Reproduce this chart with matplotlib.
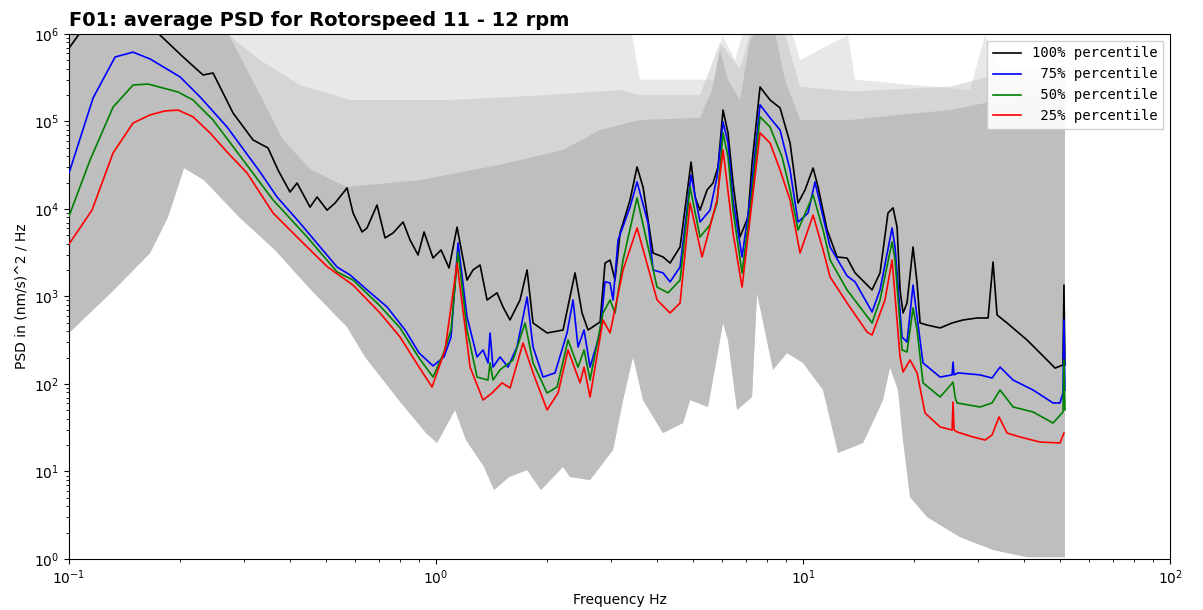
import numpy as np
import matplotlib
matplotlib.use("Agg")
import matplotlib.pyplot as plt

# ---------------- data ----------------
p100_f = [0.100, 0.1071, 0.1215, 0.1421, 0.1611, 0.177, 0.2045, 0.2318, 0.2468, 0.2798,
          0.3172, 0.3485, 0.3710, 0.4001, 0.4181, 0.4536, 0.4740, 0.5047, 0.5307, 0.5721,
          0.5941, 0.6288, 0.6486, 0.6905, 0.7261, 0.7636, 0.8131, 0.8496, 0.8933, 0.9275,
          0.9813, 1.0318, 1.0850, 1.1408, 1.2147, 1.2612, 1.318, 1.3772, 1.466, 1.5223,
          1.5905, 1.6935, 1.7701, 1.8376, 2.0067, 2.2182, 2.3917, 2.4993, 2.5955, 2.799,
          2.8873, 2.9793, 3.074, 3.1725, 3.3777, 3.5295, 3.6644, 3.9024, 4.1547, 4.342,
          4.623, 4.83, 4.953, 5.0786, 5.24, 5.476, 5.685, 5.866, 6.053, 6.246,
          6.446, 6.734, 7.081, 7.261, 7.635, 8.13, 8.656, 9.218, 9.692, 10.125,
          10.65, 10.99, 11.63, 12.38, 13.18, 13.86, 15.42, 16.21, 17.04, 17.59,
          18.04, 18.38, 18.73, 19.2, 19.94, 20.45, 20.84, 21.77, 23.63, 25.47,
          27.29, 29.8, 31.93, 32.94, 33.78, 35.97, 40.78, 46.23, 48.61, 51.08,
          51.4, 51.72]
p100_v = [690000, 1030000, 1370000, 1650000, 1370000, 970000, 546000, 340000, 358000, 125000,
          61500, 49800, 27900, 15600, 19800, 10500, 13700, 9700, 11700, 17400,
          9000, 5460, 6070, 11100, 4670, 5320, 7100, 4420, 2980, 5460,
          2750, 3400, 2120, 6200, 1540, 2010, 2290, 912, 1100, 759,
          539, 912, 2010, 498, 383, 414, 1860, 648, 414, 511,
          2410, 2610, 1540, 5320, 12700, 30200, 17800, 3140, 2830, 2410,
          3680, 15200, 34400, 13700, 9700, 16500, 19800, 30200, 135000, 74000,
          19800, 4790, 8100, 33600, 248000, 176000, 143000, 56800, 11700, 16500,
          29400, 17800, 5750, 2830, 2750, 1860, 1190, 1860, 9000, 10300,
          6200, 1190, 648, 843, 3680, 1430, 498, 472, 437, 498,
          539, 568, 568, 2480, 615, 498, 318, 188, 152, 165,
          1350, 165]

p75_f = [0.100, 0.1163, 0.1335, 0.1494, 0.1663, 0.2007, 0.2275, 0.2695, 0.3314, 0.3688,
         0.426, 0.5374, 0.5832, 0.6486, 0.7354, 0.8235, 0.899, 0.9813, 1.0514, 1.0987,
         1.148, 1.2147, 1.2933, 1.3431, 1.3858, 1.4032, 1.4296, 1.494, 1.5708, 1.6619,
         1.7701, 1.8376, 1.9567, 2.11, 2.2747, 2.362, 2.4373, 2.5311, 2.6281, 2.799,
         2.8873, 2.9793, 3.036, 3.1326, 3.3777, 3.5295, 3.7819, 3.9024, 4.1547, 4.342,
         4.623, 4.953, 5.24, 5.58, 5.83, 6.053, 6.246, 6.446, 6.82, 7.171,
         7.635, 8.13, 8.656, 9.218, 9.692, 10.318, 10.78, 11.34, 11.85, 13.18,
         13.86, 15.42, 16.21, 17.48, 17.81, 18.61, 19.2, 19.94, 20.45, 21.23,
         23.63, 25.47, 25.63, 25.79, 26.45, 30.36, 32.73, 34.42, 37.35, 42.34,
         47.99, 50.13, 51.08, 51.4, 51.72]
p75_v = [25800, 186000, 546000, 620000, 518000, 323000, 191000, 86500, 26500, 13700,
         6900, 2170, 1760, 1190, 759, 414, 226, 161, 204, 344,
         4090, 583, 204, 245, 174, 383, 156, 204, 156, 265,
         986, 265, 120, 134, 383, 912, 265, 414, 156, 383,
         1470, 1430, 912, 4420, 10500, 20400, 6900, 2010, 1860, 1470,
         2170, 24500, 7100, 9700, 23200, 99000, 56800, 12700, 2830, 12700,
         155000, 110000, 80000, 27900, 7100, 9000, 20400, 8100, 3680, 1720,
         1470, 665, 1190, 6070, 3680, 344, 302, 1350, 583, 174,
         120, 127, 178, 127, 134, 127, 117, 156, 111, 85.4,
         60.7, 60.7, 78.9, 539, 85.4]

p50_f = [0.100, 0.1141, 0.1318, 0.1494, 0.1642, 0.1982, 0.2177, 0.2468, 0.2980, 0.3596,
         0.4452, 0.5374, 0.5941, 0.7037, 0.7979, 0.899, 0.9813, 1.0514, 1.0987, 1.148,
         1.2147, 1.2933, 1.3858, 1.4032, 1.4296, 1.494, 1.6208, 1.7478, 1.8376, 2.0067,
         2.1367, 2.2891, 2.4373, 2.5311, 2.6281, 2.851, 2.9793, 3.074, 3.2326, 3.5295,
         4.0015, 4.2878, 4.623, 4.922, 5.24, 5.58, 5.83, 6.053, 6.246, 6.446,
         6.82, 7.171, 7.635, 8.13, 8.766, 9.218, 9.692, 10.65, 11.34, 11.85,
         13.18, 15.42, 16.21, 17.48, 17.81, 18.61, 19.2, 19.94, 20.45, 21.23,
         23.63, 25.63, 25.96, 26.28, 30.36, 32.73, 34.42, 37.35, 42.34, 47.99,
         51.08, 51.4, 51.72]
p50_v = [8300, 36300, 146000, 261000, 268000, 217000, 176000, 104000, 36300, 12700,
         4790, 1910, 1540, 780, 437, 198, 120, 232, 414, 3230,
         414, 120, 111, 174, 111, 145, 188, 498, 174, 78.9,
         92.4, 318, 156, 245, 111, 648, 912, 648, 2610, 13400,
         1280, 1100, 1540, 17800, 4790, 6600, 11700, 74000, 39300, 9700,
         1860, 9700, 113000, 86500, 39300, 16500, 5750, 14500, 5750, 2610,
         1190, 498, 912, 4200, 2610, 245, 232, 740, 414, 103,
         71, 105, 71, 60.7, 54.6, 60.7, 85.4, 54.6, 47.9, 35.8,
         47.9, 188, 50.5]

p25_f = [0.100, 0.1155, 0.1318, 0.1494, 0.1663, 0.1826, 0.1982, 0.2177, 0.2422, 0.2695,
         0.3055, 0.3596, 0.426, 0.5047, 0.5476, 0.5941, 0.7037, 0.7979, 0.899, 0.9752,
         1.058, 1.141, 1.238, 1.343, 1.421, 1.513, 1.591, 1.726, 1.838, 2.007,
         2.150, 2.289, 2.468, 2.531, 2.628, 2.851, 2.979, 3.233, 3.530, 4.002,
         4.342, 4.623, 4.922, 5.307, 5.830, 6.053, 6.446, 6.820, 7.635, 8.130,
         8.656, 9.218, 9.813, 10.65, 11.34, 11.85, 13.18, 14.94, 15.42, 16.72,
         17.48, 18.38, 18.73, 19.57, 20.45, 21.50, 23.63, 25.47, 25.63, 25.79,
         26.28, 29.06, 31.33, 32.73, 34.20, 35.97, 39.02, 44.24, 50.13, 51.40]
p25_v = [3980, 9700, 43700, 96000, 119000, 132000, 135000, 113000, 74000, 44800,
         25800, 9000, 4420, 2200, 1720, 1350, 648, 344, 156, 92.4,
         245, 2410, 156, 65.6, 78.9, 103, 90, 294, 134, 50.5,
         78.9, 245, 103, 156, 71, 539, 383, 2010, 6070, 912,
         648, 843, 11700, 2830, 12700, 47200, 5320, 1280, 74000, 56800,
         27900, 12700, 3140, 8500, 3400, 1670, 843, 393, 363, 912,
         2610, 204, 137, 188, 134, 46.6, 32.3, 29.8, 62.3, 29.8,
         28.3, 24.8, 22.9, 26.1, 42, 27.5, 24.8, 21.7, 21.2, 27.5]

# envelope of the individual (grey) PSD traces
env_low_f = [0.1, 0.1326, 0.1663, 0.1861, 0.2058, 0.2332, 0.2905, 0.3641, 0.4564, 0.5721,
             0.6405, 0.8030, 0.9394, 1.0063, 1.1266, 1.2070, 1.3513, 1.4388, 1.5812, 1.7701,
             1.9322, 2.2182, 2.3179, 2.6281, 3.036, 3.2326, 3.443, 3.6644, 4.1547, 4.710,
             4.922, 5.510, 6.053, 6.246, 6.611, 7.261, 7.493, 8.285, 9.045, 10.0,
             11.34, 12.46, 14.57, 16.52, 17.26, 18.15, 18.73, 19.57, 21.77, 26.78,
             32.94, 40.78, 51.72]
env_low_v = [383, 1190, 3140, 8100, 29400, 21400, 8100, 3400, 1190, 448,
             204, 60.7, 27.5, 21.2, 50.5, 22.9, 11.3, 6.15, 8.65, 10.4,
             6.15, 11.3, 8.65, 8.0, 17.6, 65.6, 204, 65.6, 27.5, 35.8,
             65.6, 54.6, 498, 318, 50.5, 71, 1100, 145, 226, 174,
             85.4, 16.3, 21.2, 65.6, 156, 85.4, 22.9, 5.11, 3.02, 1.78,
             1.27, 1.05, 1.05]

env_dense_f = [0.1, 0.25, 0.2729, 0.3336, 0.3829, 0.4564, 0.5721, 0.9046, 1.494, 2.218,
               2.799, 3.5966, 5.24, 5.649, 5.939, 6.246, 6.734, 7.171, 7.40, 8.39,
               8.93, 9.813, 13.43, 18.38, 25.15, 34.42, 44.24, 51.72]
env_dense_v = [2e6, 2e6, 970000, 191000, 61500, 27900, 17800, 21400, 32000, 47200,
               80000, 104000, 110000, 229000, 657000, 298000, 176000, 850000, 1030000, 1030000,
               298000, 104000, 104000, 119000, 135000, 176000, 229000, 200000]

env_mid_f = [0.1, 0.25, 0.2729, 0.331, 0.426, 0.5832, 1.0917, 2.0446, 3.1725, 3.5966,
             5.24, 5.939, 6.734, 7.171, 8.93, 9.813, 13.43, 25.15, 34.42, 51.72]
env_mid_v = [2e6, 2e6, 970000, 505000, 261000, 176000, 176000, 201000, 229000, 200000,
             200000, 800000, 400000, 1e6, 1e6, 250000, 220000, 250000, 350000, 350000]

env_top_f = [0.1, 3.314, 3.5966, 5.756, 6.015, 6.527, 7.171, 8.93, 9.813, 13.26,
             13.86, 28.51, 31.33, 34.42, 51.72]
env_top_v = [2e6, 2e6, 300000, 300000, 970000, 505000, 2e6, 2e6, 505000, 970000,
             300000, 229000, 970000, 388000, 442000]

series = [("100% percentile", p100_f, p100_v, "black"),
          (" 75% percentile", p75_f, p75_v, "blue"),
          (" 50% percentile", p50_f, p50_v, "green"),
          (" 25% percentile", p25_f, p25_v, "red")]

# ---------------- figure ----------------
fig = plt.figure(figsize=(12.03, 6.10), dpi=100)
ax = fig.add_axes([0.0574, 0.0836, 0.9152, 0.8607])

grey = "#bebebe"

def band(upper_f, upper_v, alpha):
    xs = np.concatenate([np.asarray(upper_f), np.asarray(env_low_f)[::-1]])
    ys = np.concatenate([np.asarray(upper_v), np.asarray(env_low_v)[::-1]])
    ax.fill(xs, ys, color=grey, alpha=alpha, lw=0, zorder=1)

band(env_top_f, env_top_v, 0.35)
band(env_mid_f, env_mid_v, 0.45)
band(env_dense_f, env_dense_v, 1.0)

for label, f, v, c in series:
    ax.plot(f, v, color=c, lw=1.2, label=label, zorder=3)

ax.set_xscale("log")
ax.set_yscale("log")
ax.set_xlim(0.1, 100)
ax.set_ylim(1, 1e6)

ax.set_title("F01: average PSD for Rotorspeed 11 - 12 rpm", loc="left",
             fontweight="bold", fontsize=14)
ax.set_xlabel("Frequency Hz", fontsize=10)
ax.set_ylabel("PSD in (nm/s)^2 / Hz", fontsize=10)
ax.tick_params(labelsize=10)

leg = ax.legend(loc="upper right", prop={"family": "DejaVu Sans Mono", "size": 10},
                framealpha=0.9, edgecolor="#cccccc", fancybox=False)

fig.savefig("out.png", dpi=100)
